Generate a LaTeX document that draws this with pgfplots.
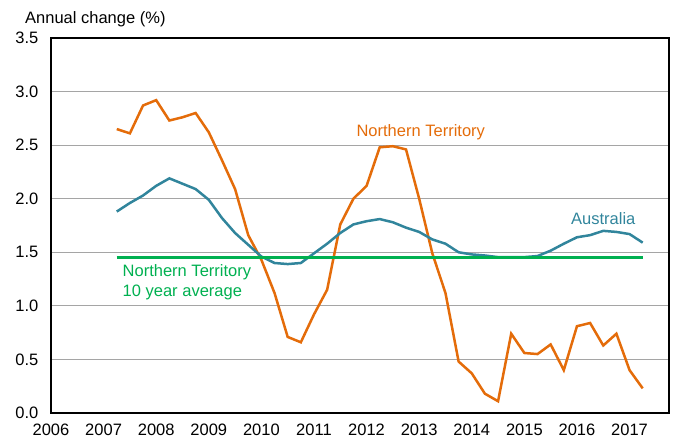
\documentclass[border=0pt]{standalone}
\usepackage{pgfplots}
\pgfplotsset{compat=1.18}
\usepackage{fontspec}
\setmainfont{Liberation Sans}
\definecolor{ntorange}{RGB}{228,108,10}
\definecolor{ausblue}{RGB}{49,133,156}
\definecolor{avggreen}{RGB}{0,176,80}
\definecolor{gridgray}{RGB}{165,165,165}

\begin{document}
\begin{tikzpicture}
\fontsize{16.5bp}{19bp}\selectfont
\useasboundingbox (-51bp,-30bp) rectangle (624bp,413bp);
\begin{axis}[scale only axis, width=618bp, height=375bp,
  at={(0,0)}, anchor=south west,
  xmin=2006, xmax=2017.75, ymin=0, ymax=3.5,
  xtick={2006,2007,2008,2009,2010,2011,2012,2013,2014,2015,2016,2017},
  xticklabels={2006,2007,2008,2009,2010,2011,2012,2013,2014,2015,2016,2017},
  ytick={0,0.5,1,1.5,2,2.5,3,3.5},
  yticklabel style={/pgf/number format/fixed,/pgf/number format/fixed zerofill,
    /pgf/number format/precision=1, xshift=-7bp},
  /pgf/number format/assume math mode=true,
  ymajorgrids, grid style={draw=gridgray, line width=1bp},
  major tick length=0pt,
  axis line style={line width=1.5bp},
  tick label style={font=\fontsize{16.5bp}{19bp}\selectfont},
  xticklabel style={yshift=-5bp},
  clip=false]
\addplot[ntorange, line width=2.5bp] coordinates {
 (2007.25,2.65)(2007.5,2.61)(2007.75,2.87)(2008.0,2.92)(2008.25,2.73)(2008.5,2.76)
 (2008.75,2.80)(2009.0,2.62)(2009.25,2.36)(2009.5,2.09)(2009.75,1.66)(2010.0,1.43)
 (2010.25,1.12)(2010.5,0.71)(2010.75,0.66)(2011.0,0.92)(2011.25,1.15)(2011.5,1.76)
 (2011.75,2.00)(2012.0,2.12)(2012.25,2.48)(2012.5,2.49)(2012.75,2.46)(2013.0,2.00)
 (2013.25,1.49)(2013.5,1.12)(2013.75,0.48)(2014.0,0.37)(2014.25,0.18)(2014.5,0.11)
 (2014.75,0.74)(2015.0,0.56)(2015.25,0.55)(2015.5,0.64)(2015.75,0.40)(2016.0,0.81)
 (2016.25,0.84)(2016.5,0.63)(2016.75,0.74)(2017.0,0.40)(2017.25,0.23)};
\addplot[ausblue, line width=2.5bp] coordinates {
 (2007.25,1.88)(2007.5,1.96)(2007.75,2.03)(2008.0,2.12)(2008.25,2.19)(2008.5,2.14)
 (2008.75,2.09)(2009.0,1.99)(2009.25,1.82)(2009.5,1.68)(2009.75,1.57)(2010.0,1.46)
 (2010.25,1.40)(2010.5,1.39)(2010.75,1.40)(2011.0,1.49)(2011.25,1.58)(2011.5,1.68)
 (2011.75,1.76)(2012.0,1.79)(2012.25,1.81)(2012.5,1.78)(2012.75,1.73)(2013.0,1.69)
 (2013.25,1.62)(2013.5,1.58)(2013.75,1.50)(2014.0,1.48)(2014.25,1.47)(2014.5,1.455)
 (2014.75,1.455)(2015.0,1.455)(2015.25,1.465)(2015.5,1.515)(2015.75,1.58)(2016.0,1.64)
 (2016.25,1.66)(2016.5,1.70)(2016.75,1.69)(2017.0,1.67)(2017.25,1.59)};
\addplot[avggreen, line width=3bp] coordinates {(2007.25,1.455)(2017.25,1.455)};
\node[ntorange, anchor=base, inner sep=0pt] at (axis cs:2013.03,2.58) {Northern Territory};
\node[ausblue, anchor=base, inner sep=0pt] at (axis cs:2016.5,1.755) {Australia};
\node[avggreen, anchor=base west, inner sep=0pt] at (axis cs:2007.36,1.27) {Northern Territory};
\node[avggreen, anchor=base west, inner sep=0pt] at (axis cs:2007.36,1.083) {10 year average};
\end{axis}
\node[anchor=base west, inner sep=0pt] at (-26bp,389.7bp) {Annual change (\%)};
\end{tikzpicture}
\end{document}
